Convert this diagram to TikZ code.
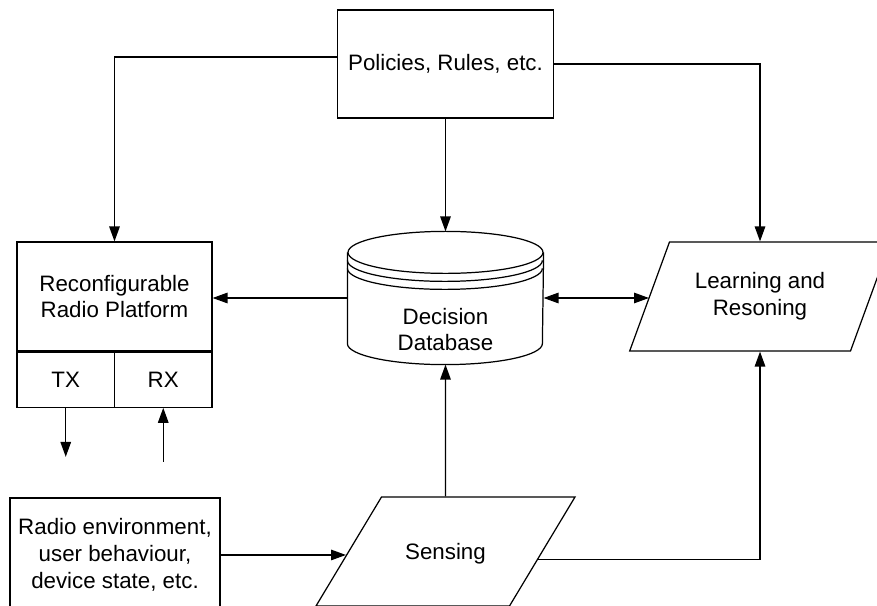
\documentclass[tikz,border=0pt]{standalone}
\usepackage{fontspec}
\setmainfont{Liberation Sans}
\usetikzlibrary{calc,arrows.meta,shapes.geometric}

\begin{document}
\begin{tikzpicture}[
		line width=0.7pt,
		>={Triangle[length=8.5pt,width=6pt]},
		every node/.style={font=\fontsize{12.7}{15.3}\selectfont, align=center},
		box/.style={draw, inner sep=0pt},
		slanted/.style={draw, trapezium, trapezium left angle=59, trapezium right angle=121, inner sep=0pt}
	]
		%%%%% START %%%%%
		\useasboundingbox (0, 0) rectangle (17.54, 12.12);
		\clip (0, 0) rectangle (17.54, 12.12);
		
		\node[box, minimum width=4.32cm, minimum height=2.16cm] (pol) at (8.91, 10.84) {Policies, Rules, etc.};
		
		\node[box, minimum width=3.9cm, minimum height=2.18cm] (rrp) at (2.29, 6.19) {Reconfigurable\\Radio Platform};
		\node[box, minimum width=1.95cm, minimum height=1.1cm, anchor=north west] (tx) at (rrp.south west) {TX};
		\node[box, minimum width=1.95cm, minimum height=1.1cm, anchor=north east] (rx) at (rrp.south east) {RX};
		\coordinate (txout) at ($(tx.south)+(0, -0.98)$);
		\coordinate (rxin) at ($(rx.south)+(0, -1.08)$);
		
		% decision database
		\node[minimum width=3.9cm, minimum height=2.64cm, inner sep=0pt] (db) at (8.91, 6.16) {};
		\draw ($(db.north)+(0, -0.42)$) ellipse (1.95 and 0.42);
		\draw ($(db.north west)+(0, -0.42)$) -- ($(db.south west)+(0, 0.42)$) arc (180:360:1.95 and 0.42) -- ($(db.north east)+(0, -0.42)$);
		\foreach \dy in {0.16, 0.32}
			\draw ($(db.north west)+(0, -0.42-\dy)$) arc (180:360:1.95 and 0.42);
		\node (dblabel) at ($(db.center)+(0, -0.63)$) {Decision\\Database};
		
		\node[slanted, trapezium stretches=true, minimum width=5.22cm, minimum height=2.18cm] (learn) at (15.2, 6.19) {Learning and\\Resoning};
		\node[slanted, trapezium stretches body=true, text height=1.25cm, text depth=0.93cm, minimum width=5.18cm] (sense) at (8.91, 1.09) {Sensing};
		\node[box, minimum width=4.2cm, minimum height=2.28cm] (env) at (2.3, 1.02) {Radio environment,\\user behaviour,\\device state, etc.};
		
		\draw[->] ($(pol.west)+(0, 0.14)$) -| (rrp);
		\draw[->] (pol.east) -| (learn);
		\draw[->] (pol) -- (db);
		\draw[->] (db.west) -- (db.west -| rrp.east);
		\draw[<->] (db.east) -- (db.east -| learn.west);
		\draw[->] (sense) -- (db);
		\draw[->] (sense.-5) -| (learn);
		\draw[->] (sense.182 -| env.east) -- (sense.182);
		\draw[->] (tx) -- (txout);
		\draw[->] (rxin) -- (rx);
		
		%%%%% END %%%%%
	\end{tikzpicture}
\end{document}
